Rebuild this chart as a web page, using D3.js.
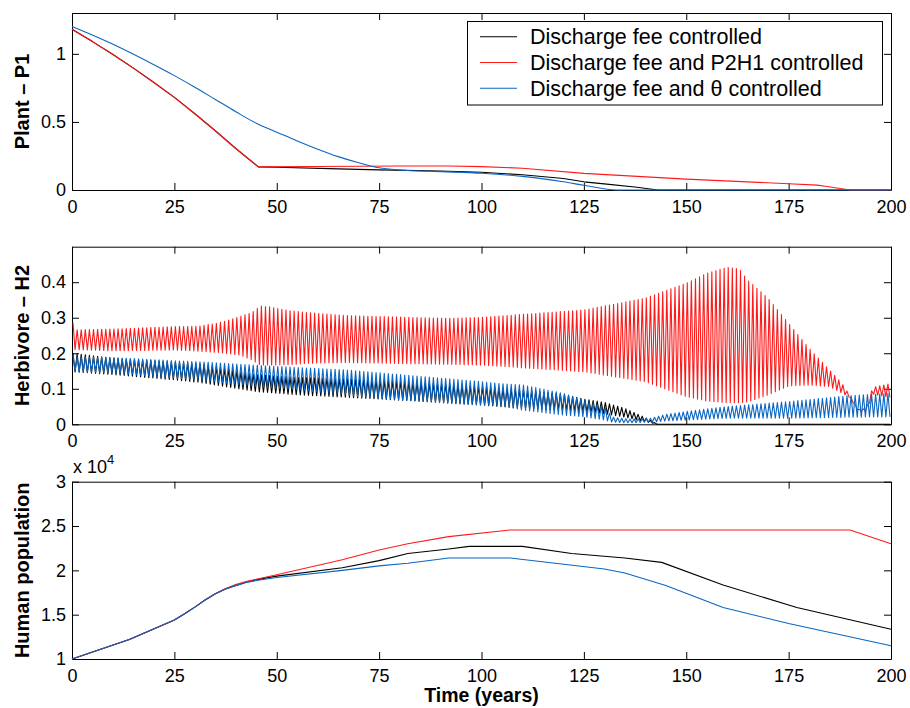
<!DOCTYPE html>
<html>
<head>
<meta charset="utf-8">
<script src="https://cdn.jsdelivr.net/npm/d3@7"></script>
<style>
body { margin: 0; background: #fff; }
text { font-family: "Liberation Sans", Arial, sans-serif; }
</style>
</head>
<body>
<svg id="chart" width="910" height="708"></svg>
<script>
// ---- data ----
var seriesNames = ['Discharge fee controlled', 'Discharge fee and P2H1 controlled', 'Discharge fee and \u03b8 controlled'];
var seriesColors = ['#000000', '#ff1a1a', '#0a66c2'];
var timeTicks = [0, 25, 50, 75, 100, 125, 150, 175, 200];

// Plant - P1
var plantBlackT = [0, 5, 10, 15, 20, 25, 30, 35, 40, 45.5, 50, 65, 75, 90, 100, 110, 120, 125, 130, 138, 143, 200];
var plantBlackV = [1.18, 1.09, 0.995, 0.895, 0.79, 0.68, 0.56, 0.435, 0.305, 0.17, 0.167, 0.155, 0.148, 0.14, 0.13, 0.112, 0.085, 0.06, 0.045, 0.02, 0, 0];
var plantRedT = [0, 5, 10, 15, 20, 25, 30, 35, 40, 45.5, 60, 80, 92, 100, 110, 125, 150, 175, 182, 184, 190, 200];
var plantRedV = [1.18, 1.09, 0.995, 0.895, 0.79, 0.68, 0.56, 0.435, 0.305, 0.17, 0.173, 0.176, 0.176, 0.172, 0.16, 0.122, 0.08, 0.046, 0.036, 0.027, 0, 0];
var plantBlueT = [0, 10, 20, 25, 30, 35, 40, 45, 50, 55, 60, 65, 70, 75, 80, 90, 100, 110, 120, 125, 133, 200];
var plantBlueV = [1.2, 1.07, 0.92, 0.84, 0.755, 0.665, 0.575, 0.49, 0.425, 0.36, 0.3, 0.245, 0.2, 0.163, 0.147, 0.135, 0.123, 0.1, 0.06, 0.035, 0, 0];

// Herbivore - H2 : yearly oscillation, envelope (max / min) at knot years
var cyclePeriod = 1;
var herbBlackT = [0, 10, 25, 31, 45, 55, 67, 80, 92, 100, 110, 120, 125, 130, 135, 140, 143, 200];
var herbBlackMax = [0.2, 0.186, 0.175, 0.17, 0.14, 0.132, 0.128, 0.12, 0.112, 0.105, 0.097, 0.085, 0.071, 0.062, 0.045, 0.019, 0, 0];
var herbBlackMin = [0.148, 0.14, 0.125, 0.118, 0.092, 0.083, 0.076, 0.068, 0.06, 0.054, 0.045, 0.04, 0.036, 0.03, 0.02, 0.007, 0, 0];
var herbRedT = [0, 1, 10, 25, 31, 36, 41, 44, 46, 48, 53, 58, 67, 92, 100, 125, 140, 150, 155, 160, 163, 165, 170, 175, 180, 185, 188, 190, 192, 194, 195.5, 200];
var herbRedMax = [0.292, 0.266, 0.268, 0.275, 0.276, 0.286, 0.303, 0.315, 0.333, 0.331, 0.32, 0.314, 0.306, 0.298, 0.301, 0.322, 0.355, 0.397, 0.425, 0.442, 0.437, 0.406, 0.355, 0.284, 0.214, 0.153, 0.116, 0.08, 0.042, 0.045, 0.104, 0.115];
var herbRedMin = [0.21, 0.21, 0.207, 0.209, 0.206, 0.202, 0.195, 0.181, 0.167, 0.167, 0.168, 0.172, 0.174, 0.169, 0.167, 0.148, 0.12, 0.078, 0.066, 0.061, 0.061, 0.063, 0.083, 0.108, 0.111, 0.106, 0.088, 0.075, 0.036, 0.036, 0.085, 0.075];
var herbBlueT = [0, 0.5, 10, 25, 31, 45, 55, 67, 70, 92, 100, 104, 110, 120, 125, 130, 132, 136, 141, 145, 150, 160, 175, 190, 200];
var herbBlueMax = [0.2, 0.19, 0.188, 0.179, 0.176, 0.166, 0.16, 0.153, 0.15, 0.128, 0.12, 0.115, 0.111, 0.087, 0.068, 0.05, 0.02, 0.015, 0.016, 0.028, 0.036, 0.05, 0.064, 0.081, 0.087];
var herbBlueMin = [0.195, 0.148, 0.145, 0.13, 0.125, 0.106, 0.097, 0.083, 0.078, 0.059, 0.054, 0.054, 0.04, 0.026, 0.021, 0.012, 0.006, 0.004, 0.006, 0.009, 0.012, 0.017, 0.017, 0.02, 0.021];

// Human population (x 10^4)
var humanBlackT = [0, 14, 25, 27.5, 30, 32.5, 35, 37.5, 40, 42.5, 45, 47.5, 50, 66, 75, 82, 92, 97, 110, 122, 135, 144, 159, 177, 200];
var humanBlackV = [1.0, 1.22, 1.44, 1.51, 1.585, 1.665, 1.735, 1.79, 1.83, 1.865, 1.893, 1.915, 1.935, 2.03, 2.11, 2.19, 2.24, 2.27, 2.27, 2.19, 2.14, 2.09, 1.835, 1.58, 1.335];
var humanRedT = [0, 14, 25, 27.5, 30, 32.5, 35, 37.5, 40, 42.5, 45, 47.5, 50, 66, 75, 82, 92, 107, 190, 200];
var humanRedV = [1.0, 1.22, 1.44, 1.51, 1.585, 1.665, 1.735, 1.795, 1.84, 1.873, 1.9, 1.925, 1.95, 2.12, 2.23, 2.3, 2.38, 2.455, 2.455, 2.3];
var humanBlueT = [0, 14, 25, 27.5, 30, 32.5, 35, 37.5, 40, 42.5, 45, 47.5, 50, 66, 75, 82, 92, 107, 130, 135, 145, 159, 175, 200];
var humanBlueV = [1.0, 1.22, 1.44, 1.51, 1.585, 1.665, 1.735, 1.79, 1.828, 1.862, 1.885, 1.903, 1.92, 2.0, 2.05, 2.08, 2.14, 2.14, 2.015, 1.97, 1.83, 1.58, 1.4, 1.15];

// ---- drawing ----
var svg = d3.select('#chart');
var left = 72, right = 891, tickLen = 7;
var x = d3.scaleLinear().domain([0, 200]).range([left, right]);

function zipPts(t, v) {
    return t.map(function(d, i) { return [d, v[i]]; });
}

function cyclePts(t, maxV, minV) {
    var hi = d3.scaleLinear().domain(t).range(maxV).clamp(true);
    var lo = d3.scaleLinear().domain(t).range(minV).clamp(true);
    var pts = [];
    for (var k = 0; k < 200; k += cyclePeriod) {
        var a = k + cyclePeriod * 0.25, b = k + cyclePeriod * 0.75;
        pts.push([a, hi(a)]);
        pts.push([b, lo(b)]);
    }
    return pts;
}

function drawPanel(top, bottom, yDomain, yTicks, label) {
    var y = d3.scaleLinear().domain(yDomain).range([bottom, top]);
    var g = svg.append('g');

    g.append('g').attr('transform', 'translate(0,' + bottom + ')')
        .call(d3.axisBottom(x).tickValues(timeTicks).tickSize(-tickLen).tickSizeOuter(0).tickPadding(10).tickFormat(d3.format('d')));
    g.append('g').attr('transform', 'translate(0,' + top + ')')
        .call(d3.axisTop(x).tickValues(timeTicks).tickSize(-tickLen).tickSizeOuter(0).tickFormat(''));
    g.append('g').attr('transform', 'translate(' + left + ',0)')
        .call(d3.axisLeft(y).tickValues(yTicks).tickSize(-tickLen).tickSizeOuter(0).tickPadding(6).tickFormat(d3.format('')));
    g.append('g').attr('transform', 'translate(' + right + ',0)')
        .call(d3.axisRight(y).tickValues(yTicks).tickSize(-tickLen).tickSizeOuter(0).tickFormat(''));

    g.selectAll('.domain').attr('stroke', '#000').attr('stroke-width', 1);
    g.selectAll('.tick line').attr('stroke', '#000');
    g.selectAll('.tick text').attr('fill', '#000')
        .style('font-family', '"Liberation Sans", Arial, sans-serif').style('font-size', '18px');

    svg.append('text')
        .attr('transform', 'translate(29,' + ((top + bottom) / 2) + ') rotate(-90)')
        .attr('text-anchor', 'middle')
        .style('font-size', '20px').style('font-weight', 'bold')
        .text(label);
    return y;
}

function drawLine(y, pts, color, curve) {
    var line = d3.line()
        .x(function(d) { return x(d[0]); })
        .y(function(d) { return y(d[1]); })
        .curve(curve || d3.curveLinear);
    svg.append('path').datum(pts)
        .attr('d', line)
        .attr('fill', 'none')
        .attr('stroke', color)
        .attr('stroke-width', 1.1)
        .attr('stroke-linejoin', 'round');
}

// panel 1
var yPlant = drawPanel(13, 190, [0, 1.3], [0, 0.5, 1], 'Plant \u2013 P1');
drawLine(yPlant, zipPts(plantBlackT, plantBlackV), seriesColors[0]);
drawLine(yPlant, zipPts(plantRedT, plantRedV), seriesColors[1]);
drawLine(yPlant, zipPts(plantBlueT, plantBlueV), seriesColors[2], d3.curveMonotoneX);

// panel 2
var yHerb = drawPanel(246.7, 424.3, [0, 0.5], [0, 0.1, 0.2, 0.3, 0.4], 'Herbivore \u2013 H2');
drawLine(yHerb, cyclePts(herbBlackT, herbBlackMax, herbBlackMin), seriesColors[0]);
drawLine(yHerb, cyclePts(herbRedT, herbRedMax, herbRedMin), seriesColors[1]);
drawLine(yHerb, cyclePts(herbBlueT, herbBlueMax, herbBlueMin), seriesColors[2]);

// panel 3
var yHuman = drawPanel(481.7, 659, [1, 3], [1, 1.5, 2, 2.5, 3], 'Human population');
drawLine(yHuman, zipPts(humanBlackT, humanBlackV), seriesColors[0]);
drawLine(yHuman, zipPts(humanRedT, humanRedV), seriesColors[1]);
drawLine(yHuman, zipPts(humanBlueT, humanBlueV), seriesColors[2]);

var expo = svg.append('text').attr('x', 73).attr('y', 473).style('font-size', '18px');
expo.append('tspan').text('x 10');
expo.append('tspan').attr('dy', -9).style('font-size', '13px').text('4');

svg.append('text')
    .attr('x', (left + right) / 2).attr('y', 702)
    .attr('text-anchor', 'middle')
    .style('font-size', '19.5px').style('font-weight', 'bold')
    .text('Time (years)');

// legend
var legend = svg.append('g');
legend.append('rect')
    .attr('x', 467.5).attr('y', 21.5).attr('width', 415).attr('height', 83.5)
    .attr('fill', '#fff').attr('stroke', '#000').attr('stroke-width', 1);
seriesNames.forEach(function(name, i) {
    var cy = 36.7 + i * 25.8;
    legend.append('line')
        .attr('x1', 480).attr('x2', 517).attr('y1', cy).attr('y2', cy)
        .attr('stroke', seriesColors[i]).attr('stroke-width', 1.1);
    legend.append('text')
        .attr('x', 530).attr('y', cy + 7.6)
        .style('font-size', '21.5px')
        .text(name);
});
</script>
</body>
</html>
